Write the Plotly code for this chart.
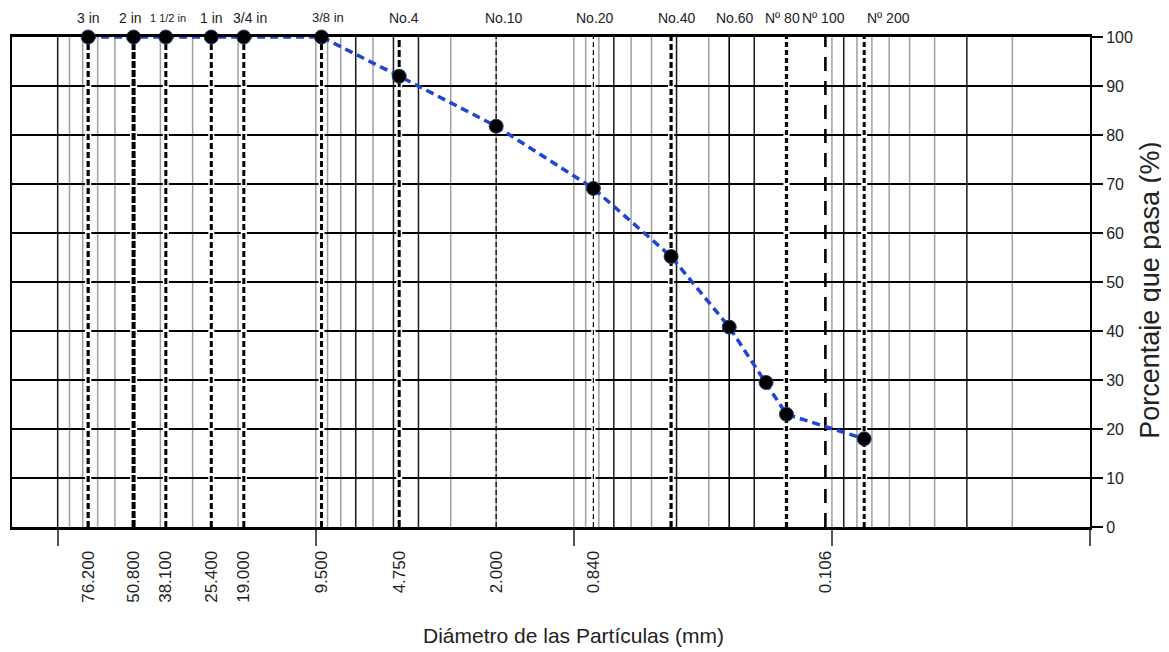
import plotly.graph_objects as go
import numpy as np

# ---------------- data ----------------
point_sizes_mm = [76.2, 50.8, 38.1, 25.4, 19.0, 9.5, 4.75, 2.0, 0.84, 0.42, 0.25, 0.18, 0.15, 0.075]
percent_passing = [100, 100, 100, 100, 100, 100, 92.0, 81.8, 69.1, 55.2, 40.8, 29.5, 23.0, 18.0]

sieve_line_mm = [76.2, 50.8, 38.1, 25.4, 19.0, 9.5, 4.75, 2.0, 0.84, 0.42, 0.25, 0.15, 0.106, 0.075]
sieve_names = ["3 in", "2 in", "1 1/2 in", "1 in", "3/4 in", "3/8 in", "No.4", "No.10",
               "No.20", "No.40", "No.60", "Nº 80", "Nº 100", "Nº 200"]

xtick_vals = [76.2, 50.8, 38.1, 25.4, 19.0, 9.5, 4.75, 2.0, 0.84, 0.106]
xtick_text = ["76.200", "50.800", "38.100", "25.400", "19.000", "9.500", "4.750", "2.000", "0.840", "0.106"]

decade_ticks = [100, 10, 1, 0.1, 0.01]
y_ticks = list(range(0, 101, 10))

# ---------------- styles ----------------
REG = "Liberation Sans, Arial, sans-serif"

sieve_styles = [
    dict(w=3.2, dash="6px,3px", halo=True),   # 76.2
    dict(w=4.0, dash="7px,2px", halo=True),   # 50.8
    dict(w=3.0, dash="6px,3px", halo=True),   # 38.1
    dict(w=3.0, dash="6px,3px", halo=True),   # 25.4
    dict(w=3.0, dash="6px,3px", halo=True),   # 19.0
    dict(w=3.0, dash="6px,3px", halo=True),   # 9.5
    dict(w=3.0, dash="7px,3px", halo=True),   # 4.75
    dict(w=1.2, dash="5px,3px", halo=False),  # 2.0
    dict(w=1.2, dash="5px,3px", halo=True),   # 0.84
    dict(w=3.2, dash="6px,3px", halo=True),   # 0.42
    dict(w=1.6, dash="solid", halo=False),    # 0.25
    dict(w=3.2, dash="5px,3px", halo=True),   # 0.15
    dict(w=2.6, dash="14px,10px", halo=False),  # 0.106
    dict(w=3.0, dash="5px,3px", halo=True),   # 0.075
]
label_shift = [0, -3, 2, 0, 6, 6, 5, 8, 2, 6, 6, -4, -2, 24]
label_size = [14, 14, 11, 14, 14, 13, 14, 14, 14, 14, 14, 14, 14, 14]

dark_grid = {100, 7, 5, 4, 0.7, 0.4, 0.2, 0.09, 0.03}

xr = [2.177, -2.0]

fig = go.Figure()

shapes = []
# vertical log grid
for k in range(-2, 3):
    for m in range(1, 10):
        v = round(m * 10 ** k, 6)
        if v < 0.0101 or v > 10 ** xr[0]:
            continue
        dark = v in dark_grid
        shapes.append(dict(type="line", xref="x", yref="paper", x0=v, x1=v, y0=0, y1=1,
                           line=dict(color="#1a1a1a" if dark else "#a0a0a0", width=1.5),
                           layer="below"))
# sieve lines
for v, st in zip(sieve_line_mm, sieve_styles):
    if st["halo"]:
        shapes.append(dict(type="line", xref="x", yref="y", x0=v, x1=v, y0=0, y1=100,
                           line=dict(color="white", width=st["w"] + 3), layer="between"))
    shapes.append(dict(type="line", xref="x", yref="y", x0=v, x1=v, y0=0, y1=100,
                       line=dict(color="black", width=st["w"], dash=st["dash"]), layer="between"))

# curve
fig.add_trace(go.Scatter(
    x=point_sizes_mm, y=percent_passing, mode="lines+markers",
    line=dict(color="#1f44d6", width=3.5, dash="8px,5px"),
    marker=dict(color="black", size=14, line=dict(color="#2a3f7a", width=1)),
    showlegend=False, cliponaxis=False,
))
# dummy trace for label axis
fig.add_trace(go.Scatter(x=xtick_vals, y=[50] * len(xtick_vals), xaxis="x2", mode="markers",
                         marker=dict(opacity=0), showlegend=False, hoverinfo="skip"))

annotations = []
for v, name, dx, fs in zip(sieve_line_mm, sieve_names, label_shift, label_size):
    annotations.append(dict(x=np.log10(v), xref="x", y=1.039, yref="paper", text=name,
                            showarrow=False, xshift=dx, yanchor="middle",
                            font=dict(family=REG, size=fs, color="#222")))
annotations.append(dict(x=0.0, xref="x", y=-0.221, yref="paper",
                        text="Diámetro de las Partículas (mm)", showarrow=False,
                        yanchor="middle", font=dict(family=REG, size=21, color="#222")))
annotations.append(dict(x=1.0556, xref="paper", y=0.484, yref="paper",
                        text="Porcentaje que pasa (%)", showarrow=False, textangle=-90,
                        xanchor="center", yanchor="middle",
                        font=dict(family=REG, size=27, color="#222")))

fig.update_layout(
    width=1161, height=644,
    margin=dict(l=2, r=79, t=29, b=125),
    paper_bgcolor="white", plot_bgcolor="white",
    shapes=shapes, annotations=annotations,
    xaxis=dict(type="log", range=xr, tickvals=decade_ticks, showticklabels=False,
               ticks="outside", ticklen=16, tickwidth=1.5, tickcolor="#555",
               showgrid=False, zeroline=False, showline=True, linecolor="black",
               linewidth=2.5, mirror=True),
    xaxis2=dict(type="log", range=xr, overlaying="x", side="bottom",
                tickvals=xtick_vals, ticktext=xtick_text, tickangle=-90,
                ticks="outside", ticklen=16, tickcolor="rgba(0,0,0,0)",
                showgrid=False, zeroline=False, showline=False,
                tickfont=dict(family=REG, size=17, color="#222")),
    yaxis=dict(range=[0, 100], side="right", tickvals=y_ticks, ticks="outside",
               ticklen=11, tickwidth=1.5, tickcolor="black",
               showgrid=True, gridcolor="black", gridwidth=1.5, zeroline=False,
               showline=True, linecolor="black", linewidth=2, mirror=True,
               tickfont=dict(family=REG, size=16, color="#222")),
)

fig.write_html("out.html")
